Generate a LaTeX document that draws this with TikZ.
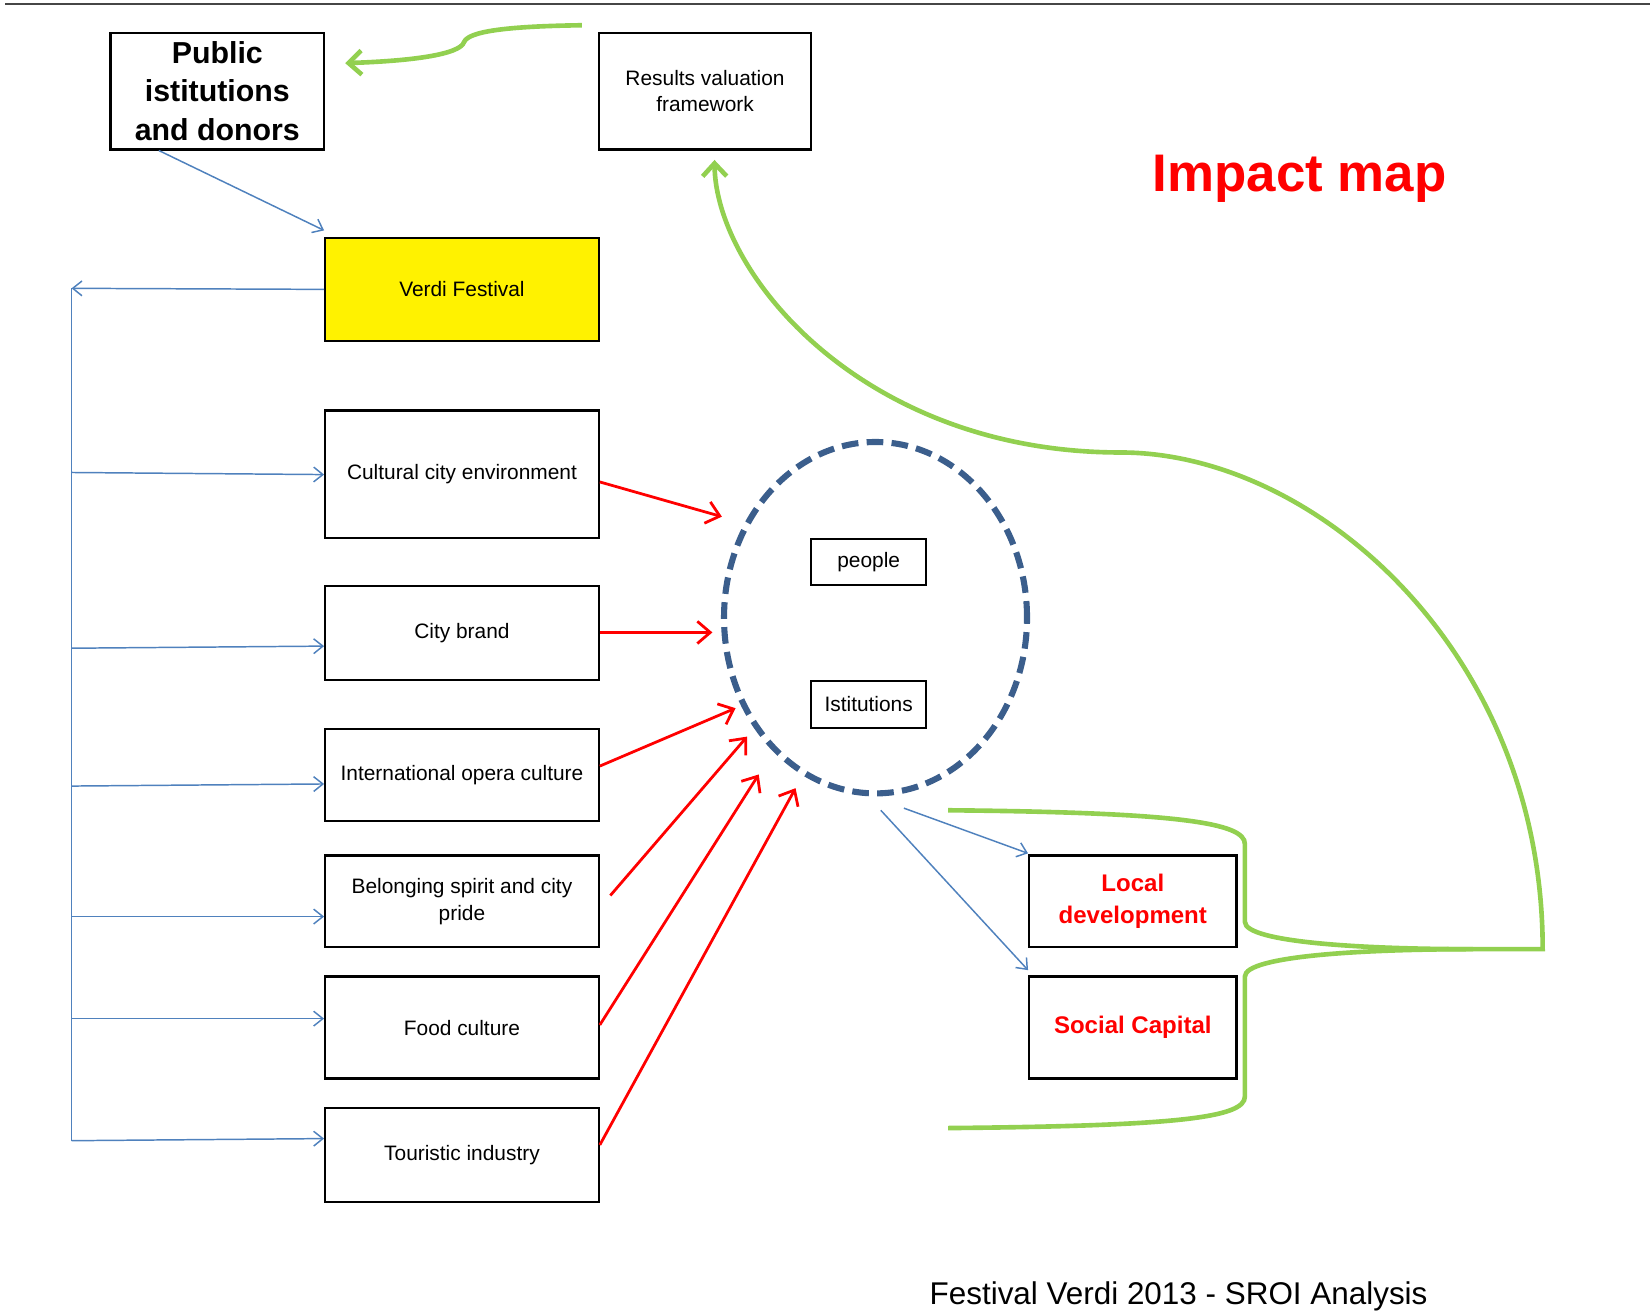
\documentclass[tikz,border=0pt]{standalone}
\usepackage{fontspec}
\setmainfont{Liberation Sans}
\usetikzlibrary{arrows.meta,shapes.geometric}
\definecolor{linkblue}{RGB}{79,129,189}
\definecolor{ringblue}{RGB}{59,94,140}
\definecolor{backgreen}{RGB}{146,208,80}
\definecolor{rulegray}{RGB}{70,70,70}
\tikzset{
  box/.style={draw, line width=1.2pt, align=center, inner sep=2pt, font=\fontsize{11.3}{14.5}\selectfont},
  outcome/.style={box, text=red, font=\fontsize{13}{17.6}\selectfont\bfseries},
  feed/.style={linkblue, line width=0.8pt, -{Straight Barb[length=5pt,width=8pt]}},
  impact/.style={red, line width=1.5pt, -{Straight Barb[length=7pt,width=12pt]}},
  greenline/.style={backgreen, line width=2.5pt},
  greenarrow/.style={greenline, -{Straight Barb[length=7pt,width=13pt]}}
}
\begin{document}
\begin{tikzpicture}[x=0.02cm,y=-0.02cm]
\useasboundingbox (0,0) rectangle (1568,1246);

\draw[rulegray, line width=1.3pt] (5,4) -- (1568,4);

\node[box, minimum width=4.06cm, minimum height=2.22cm, font=\fontsize{16.4}{21}\selectfont\bfseries] (pub) at (206.5,86.5) {Public\\istitutions\\and donors};
\node[box, minimum width=4.04cm, minimum height=2.22cm] (res) at (670,86.5) {Results valuation\\framework};
\node[red, font=\fontsize{28.6}{34}\selectfont\bfseries] (title) at (1235,170) {Impact map};

\node[box, fill=yellow, minimum width=5.2cm, minimum height=1.96cm] (verdi) at (439,275) {Verdi Festival};
\node[box, minimum width=5.2cm, minimum height=2.42cm] (cult) at (439,450.5) {Cultural city environment};
\node[box, minimum width=5.2cm, minimum height=1.78cm] (brand) at (439,601.5) {City brand};
\node[box, minimum width=5.2cm, minimum height=1.74cm] (opera) at (439,736.5) {International opera culture};
\node[box, minimum width=5.2cm, minimum height=1.74cm] (pride) at (439,856.5) {Belonging spirit and city\\pride};
\node[box, minimum width=5.2cm, minimum height=1.94cm] (food) at (439,976.5) {Food culture};
\node[box, minimum width=5.2cm, minimum height=1.78cm] (tour) at (439,1097.5) {Touristic industry};

\node[ellipse, draw=ringblue, line width=3.3pt, dash pattern=on 9pt off 4.5pt, minimum width=5.76cm, minimum height=6.68cm, inner sep=0pt] (ring) at (832,587) {};
\node[box, minimum width=2.18cm, minimum height=0.88cm] (people) at (825.5,534) {people};
\node[box, minimum width=2.18cm, minimum height=0.9cm] (inst) at (825.5,669.5) {Istitutions};

\node[outcome, minimum width=3.94cm, minimum height=1.74cm] (local) at (1076.5,856.5) {Local\\development};
\node[outcome, minimum width=3.94cm, minimum height=1.94cm] (social) at (1076.5,976.5) {Social Capital};

\node[font=\fontsize{17}{20}\selectfont] (footer) at (1120,1232) {Festival Verdi 2013 - SROI Analysis};

\draw[feed] ([xshift=0.94cm]pub.south west) -- ([yshift=0.12cm]verdi.north west);
\coordinate (bustop) at (68,274);
\coordinate (busend) at (68,1084);
\draw[feed] (verdi.west) -- (bustop);
\draw[linkblue, line width=0.8pt] (bustop) -- (busend);
\draw[feed] (bustop |- 0,449) -- (cult.west |- 0,451);
\draw[feed] (bustop |- 0,616) -- (brand.west |- 0,614);
\draw[feed] (bustop |- 0,747) -- (opera.west |- 0,745);
\draw[feed] (bustop |- 0,871) -- (pride.west |- 0,871);
\draw[feed] (bustop |- 0,968) -- (food.west |- 0,968);
\draw[feed] (busend) -- (tour.west |- 0,1082);

\coordinate (hit1) at (686,491);
\coordinate (hit2) at (677,601);
\coordinate (hit3) at (699,673);
\coordinate (hit4) at (710,700);
\coordinate (hit5) at (721,736);
\coordinate (hit6) at (756,749);
\coordinate (pridegap) at (580,851);
\draw[impact] (cult.east |- 0,458) -- (hit1);
\draw[impact] (brand.east |- 0,601) -- (hit2);
\draw[impact] (opera.east |- 0,728) -- (hit3);
\draw[impact] (pridegap) -- (hit4);
\draw[impact] (food.east |- 0,974) -- (hit5);
\draw[impact] (tour.east |- 0,1088) -- (hit6);

\coordinate (out1) at (859,768);
\coordinate (out2) at (837,770);
\draw[feed] (out1) -- ([yshift=0.02cm]local.north west);
\draw[feed] (out2) -- ([yshift=0.1cm]social.north west);

\coordinate (backstart) at (553,24);
\coordinate (backend) at (328,60);
\draw[greenarrow] (backstart) .. controls (480,25) and (445,30) .. (441,40) .. controls (437,52) and (390,58) .. (backend);

\coordinate (bracetip) at (1400,902);
\coordinate (corner) at (1466,902);
\coordinate (resback) at (679,152);
\draw[greenline] (901,770) .. controls (1120,772) and (1183,782) .. (1183,802) -- (1183,876) .. controls (1183,896) and (1300,902) .. (bracetip);
\draw[greenarrow] (901,1072) .. controls (1120,1070) and (1183,1062) .. (1183,1042) -- (1183,928) .. controls (1183,908) and (1300,902) .. (bracetip) -- (corner) .. controls (1466,620) and (1250,430) .. (1065,430) .. controls (820,430) and (680,260) .. (resback);
\end{tikzpicture}
\end{document}
